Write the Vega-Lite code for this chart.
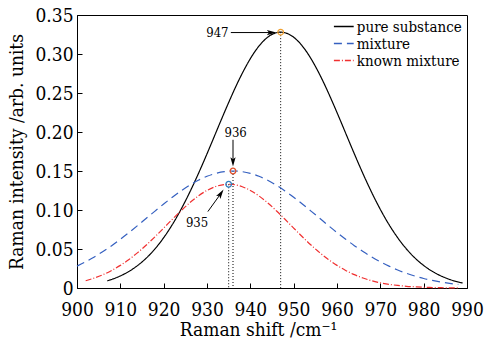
{
  "$schema": "https://vega.github.io/schema/vega-lite/v6.json",
  "width": 390,
  "height": 273,
  "autosize": {"type": "none"},
  "padding": {"left": 77, "top": 15, "right": 17, "bottom": 52},
  "background": "white",
  "config": {
    "font": "'DejaVu Serif Condensed', 'DejaVu Serif'",
    "view": {"stroke": "#000", "strokeWidth": 1},
    "axis": {
      "grid": false,
      "domainColor": "#000",
      "domainWidth": 1,
      "tickColor": "#000",
      "tickSize": -5,
      "labelColor": "#000",
      "titleColor": "#000",
      "labelFont": "'DejaVu Serif Condensed', 'DejaVu Serif'",
      "titleFont": "'DejaVu Serif Condensed', 'DejaVu Serif'",
      "labelFontSize": 19,
      "titleFontSize": 19,
      "titleFontWeight": "normal",
      "labelOverlap": false,
      "labelFlush": false
    }
  },
  "datasets": {
    "curves": [
      {"series": "pure substance", "x": 907, "y": 0.0092},
      {"series": "pure substance", "x": 909, "y": 0.0131},
      {"series": "pure substance", "x": 911, "y": 0.0182},
      {"series": "pure substance", "x": 913, "y": 0.0249},
      {"series": "pure substance", "x": 915, "y": 0.0334},
      {"series": "pure substance", "x": 917, "y": 0.0440},
      {"series": "pure substance", "x": 919, "y": 0.0570},
      {"series": "pure substance", "x": 921, "y": 0.0726},
      {"series": "pure substance", "x": 923, "y": 0.0907},
      {"series": "pure substance", "x": 925, "y": 0.1114},
      {"series": "pure substance", "x": 927, "y": 0.1343},
      {"series": "pure substance", "x": 929, "y": 0.1591},
      {"series": "pure substance", "x": 931, "y": 0.1852},
      {"series": "pure substance", "x": 933, "y": 0.2118},
      {"series": "pure substance", "x": 935, "y": 0.2378},
      {"series": "pure substance", "x": 937, "y": 0.2624},
      {"series": "pure substance", "x": 939, "y": 0.2843},
      {"series": "pure substance", "x": 941, "y": 0.3027},
      {"series": "pure substance", "x": 943, "y": 0.3165},
      {"series": "pure substance", "x": 945, "y": 0.3251},
      {"series": "pure substance", "x": 947, "y": 0.3280},
      {"series": "pure substance", "x": 949, "y": 0.3251},
      {"series": "pure substance", "x": 951, "y": 0.3165},
      {"series": "pure substance", "x": 953, "y": 0.3027},
      {"series": "pure substance", "x": 955, "y": 0.2843},
      {"series": "pure substance", "x": 957, "y": 0.2624},
      {"series": "pure substance", "x": 959, "y": 0.2378},
      {"series": "pure substance", "x": 961, "y": 0.2118},
      {"series": "pure substance", "x": 963, "y": 0.1852},
      {"series": "pure substance", "x": 965, "y": 0.1591},
      {"series": "pure substance", "x": 967, "y": 0.1343},
      {"series": "pure substance", "x": 969, "y": 0.1114},
      {"series": "pure substance", "x": 971, "y": 0.0907},
      {"series": "pure substance", "x": 973, "y": 0.0726},
      {"series": "pure substance", "x": 975, "y": 0.0570},
      {"series": "pure substance", "x": 977, "y": 0.0440},
      {"series": "pure substance", "x": 979, "y": 0.0334},
      {"series": "pure substance", "x": 981, "y": 0.0249},
      {"series": "pure substance", "x": 983, "y": 0.0182},
      {"series": "pure substance", "x": 985, "y": 0.0131},
      {"series": "pure substance", "x": 987, "y": 0.0092},
      {"series": "pure substance", "x": 989, "y": 0.0064},
      {"series": "mixture", "x": 900, "y": 0.0280},
      {"series": "mixture", "x": 902, "y": 0.0336},
      {"series": "mixture", "x": 904, "y": 0.0398},
      {"series": "mixture", "x": 906, "y": 0.0468},
      {"series": "mixture", "x": 908, "y": 0.0543},
      {"series": "mixture", "x": 910, "y": 0.0625},
      {"series": "mixture", "x": 912, "y": 0.0711},
      {"series": "mixture", "x": 914, "y": 0.0801},
      {"series": "mixture", "x": 916, "y": 0.0894},
      {"series": "mixture", "x": 918, "y": 0.0986},
      {"series": "mixture", "x": 920, "y": 0.1077},
      {"series": "mixture", "x": 922, "y": 0.1164},
      {"series": "mixture", "x": 924, "y": 0.1245},
      {"series": "mixture", "x": 926, "y": 0.1318},
      {"series": "mixture", "x": 928, "y": 0.1381},
      {"series": "mixture", "x": 930, "y": 0.1432},
      {"series": "mixture", "x": 932, "y": 0.1469},
      {"series": "mixture", "x": 934, "y": 0.1492},
      {"series": "mixture", "x": 936, "y": 0.1500},
      {"series": "mixture", "x": 938, "y": 0.1492},
      {"series": "mixture", "x": 940, "y": 0.1469},
      {"series": "mixture", "x": 942, "y": 0.1432},
      {"series": "mixture", "x": 944, "y": 0.1381},
      {"series": "mixture", "x": 946, "y": 0.1318},
      {"series": "mixture", "x": 948, "y": 0.1245},
      {"series": "mixture", "x": 950, "y": 0.1164},
      {"series": "mixture", "x": 952, "y": 0.1077},
      {"series": "mixture", "x": 954, "y": 0.0986},
      {"series": "mixture", "x": 956, "y": 0.0894},
      {"series": "mixture", "x": 958, "y": 0.0801},
      {"series": "mixture", "x": 960, "y": 0.0711},
      {"series": "mixture", "x": 962, "y": 0.0625},
      {"series": "mixture", "x": 964, "y": 0.0543},
      {"series": "mixture", "x": 966, "y": 0.0468},
      {"series": "mixture", "x": 968, "y": 0.0398},
      {"series": "mixture", "x": 970, "y": 0.0336},
      {"series": "mixture", "x": 972, "y": 0.0280},
      {"series": "mixture", "x": 974, "y": 0.0231},
      {"series": "mixture", "x": 976, "y": 0.0189},
      {"series": "mixture", "x": 978, "y": 0.0153},
      {"series": "mixture", "x": 980, "y": 0.0122},
      {"series": "mixture", "x": 982, "y": 0.0097},
      {"series": "mixture", "x": 984, "y": 0.0076},
      {"series": "mixture", "x": 986, "y": 0.0059},
      {"series": "mixture", "x": 988, "y": 0.0045},
      {"series": "known mixture", "x": 902, "y": 0.0093},
      {"series": "known mixture", "x": 904, "y": 0.0128},
      {"series": "known mixture", "x": 906, "y": 0.0171},
      {"series": "known mixture", "x": 908, "y": 0.0225},
      {"series": "known mixture", "x": 910, "y": 0.0290},
      {"series": "known mixture", "x": 912, "y": 0.0366},
      {"series": "known mixture", "x": 914, "y": 0.0454},
      {"series": "known mixture", "x": 916, "y": 0.0551},
      {"series": "known mixture", "x": 918, "y": 0.0657},
      {"series": "known mixture", "x": 920, "y": 0.0768},
      {"series": "known mixture", "x": 922, "y": 0.0881},
      {"series": "known mixture", "x": 924, "y": 0.0990},
      {"series": "known mixture", "x": 926, "y": 0.1092},
      {"series": "known mixture", "x": 928, "y": 0.1180},
      {"series": "known mixture", "x": 930, "y": 0.1251},
      {"series": "known mixture", "x": 932, "y": 0.1301},
      {"series": "known mixture", "x": 934, "y": 0.1327},
      {"series": "known mixture", "x": 935, "y": 0.1330},
      {"series": "known mixture", "x": 936, "y": 0.1327},
      {"series": "known mixture", "x": 938, "y": 0.1301},
      {"series": "known mixture", "x": 940, "y": 0.1251},
      {"series": "known mixture", "x": 942, "y": 0.1180},
      {"series": "known mixture", "x": 944, "y": 0.1092},
      {"series": "known mixture", "x": 946, "y": 0.0990},
      {"series": "known mixture", "x": 948, "y": 0.0881},
      {"series": "known mixture", "x": 950, "y": 0.0768},
      {"series": "known mixture", "x": 952, "y": 0.0657},
      {"series": "known mixture", "x": 954, "y": 0.0551},
      {"series": "known mixture", "x": 956, "y": 0.0454},
      {"series": "known mixture", "x": 958, "y": 0.0366},
      {"series": "known mixture", "x": 960, "y": 0.0290},
      {"series": "known mixture", "x": 962, "y": 0.0225},
      {"series": "known mixture", "x": 964, "y": 0.0171},
      {"series": "known mixture", "x": 966, "y": 0.0128},
      {"series": "known mixture", "x": 968, "y": 0.0093},
      {"series": "known mixture", "x": 970, "y": 0.0067},
      {"series": "known mixture", "x": 972, "y": 0.0047},
      {"series": "known mixture", "x": 974, "y": 0.0033},
      {"series": "known mixture", "x": 976, "y": 0.0022},
      {"series": "known mixture", "x": 978, "y": 0.0015},
      {"series": "known mixture", "x": 980, "y": 0.0009},
      {"series": "known mixture", "x": 982, "y": 0.0006},
      {"series": "known mixture", "x": 984, "y": 0.0004},
      {"series": "known mixture", "x": 986, "y": 0.0002},
      {"series": "known mixture", "x": 988, "y": 0.0001}
    ],
    "peaks": [
      {"name": "pure substance", "x": 947, "y": 0.328},
      {"name": "mixture", "x": 936, "y": 0.150},
      {"name": "known mixture", "x": 935, "y": 0.133}
    ],
    "labels": [
      {"label": "947", "x": 932.4, "y": 0.327},
      {"label": "936", "x": 936.6, "y": 0.199},
      {"label": "935", "x": 927.7, "y": 0.083}
    ],
    "arrows": [
      {"label": "947", "x": 935.5, "y": 0.3275, "x2": 944.9, "y2": 0.3275},
      {"label": "936", "x": 936.0, "y": 0.190, "x2": 936.0, "y2": 0.1617},
      {"label": "935", "x": 930.2, "y": 0.098, "x2": 933.2, "y2": 0.1211}
    ],
    "head947": [{"x": 944.9, "y": 0.3275}],
    "head936": [{"x": 936.0, "y": 0.1617}],
    "head935": [{"x": 933.2, "y": 0.1211}],
    "pt947": [{"x": 947, "y": 0.328}],
    "pt936": [{"x": 936, "y": 0.150}],
    "pt935": [{"x": 935, "y": 0.133}]
  },
  "encoding": {
    "x": {
      "field": "x",
      "type": "quantitative",
      "scale": {"domain": [900, 990], "nice": false, "zero": false},
      "axis": {
        "title": "Raman shift /cm⁻¹",
        "values": [900, 910, 920, 930, 940, 950, 960, 970, 980, 990],
        "format": "d",
        "labelPadding": 17,
        "titlePadding": 1,
        "titleX": 181
      }
    },
    "y": {
      "field": "y",
      "type": "quantitative",
      "scale": {"domain": [0, 0.35], "nice": false},
      "axis": {
        "title": "Raman intensity /arb. units",
        "values": [0, 0.05, 0.1, 0.15, 0.2, 0.25, 0.3, 0.35],
        "labelExpr": "datum.value == 0 ? '0' : format(datum.value, '.2f')",
        "labelPadding": 9,
        "titlePadding": 8
      }
    }
  },
  "layer": [
    {
      "data": {"name": "peaks"},
      "mark": {"type": "rule", "color": "#000", "strokeWidth": 1, "strokeDash": [1, 2]},
      "encoding": {"y2": {"datum": 0}}
    },
    {
      "data": {"name": "curves"},
      "mark": {"type": "line", "strokeWidth": 1.2, "interpolate": "monotone"},
      "encoding": {
        "color": {
          "field": "series",
          "type": "nominal",
          "scale": {"domain": ["pure substance", "mixture", "known mixture"], "range": ["#000000", "#3560c0", "#f03030"]},
          "legend": {
            "title": null, "orient": "none", "legendX": 258.8, "legendY": 3.5,
            "symbolType": "M-1.4,0H1.4", "symbolSize": 200, "symbolStrokeWidth": 1.3,
            "labelFontSize": 15, "labelFont": "'DejaVu Serif Condensed', 'DejaVu Serif'", "labelColor": "#000",
            "rowPadding": 1, "padding": 0, "labelOffset": 5
          }
        },
        "strokeDash": {
          "field": "series",
          "type": "nominal",
          "scale": {"domain": ["pure substance", "mixture", "known mixture"], "range": [[1, 0], [8, 5], [6, 2, 1, 2]]},
          "legend": {
            "title": null, "orient": "none", "legendX": 258.8, "legendY": 3.5,
            "symbolType": "M-1.4,0H1.4", "symbolSize": 200, "symbolStrokeWidth": 1.3,
            "labelFontSize": 15, "labelFont": "'DejaVu Serif Condensed', 'DejaVu Serif'", "labelColor": "#000",
            "rowPadding": 1, "padding": 0, "labelOffset": 5
          }
        }
      }
    },
    {
      "data": {"name": "arrows"},
      "mark": {"type": "rule", "color": "#000", "strokeWidth": 1},
      "encoding": {"x2": {"field": "x2"}, "y2": {"field": "y2"}}
    },
    {
      "data": {"name": "head947"},
      "mark": {"type": "point", "shape": "M0,-1L0.55,1L0,0.55L-0.55,1Z", "size": 90, "filled": true, "color": "#000", "opacity": 1, "angle": 90}
    },
    {
      "data": {"name": "head936"},
      "mark": {"type": "point", "shape": "M0,-1L0.55,1L0,0.55L-0.55,1Z", "size": 90, "filled": true, "color": "#000", "opacity": 1, "angle": 180}
    },
    {
      "data": {"name": "head935"},
      "mark": {"type": "point", "shape": "M0,-1L0.55,1L0,0.55L-0.55,1Z", "size": 90, "filled": true, "color": "#000", "opacity": 1, "angle": 34}
    },
    {
      "data": {"name": "pt947"},
      "mark": {"type": "point", "shape": "circle", "size": 32, "filled": false, "stroke": "#f0a030", "strokeWidth": 1.3, "opacity": 1}
    },
    {
      "data": {"name": "pt936"},
      "mark": {"type": "point", "shape": "circle", "size": 32, "filled": false, "stroke": "#e0502a", "strokeWidth": 1.3, "opacity": 1}
    },
    {
      "data": {"name": "pt935"},
      "mark": {"type": "point", "shape": "circle", "size": 32, "filled": false, "stroke": "#2f7fc0", "strokeWidth": 1.3, "opacity": 1}
    },
    {
      "data": {"name": "labels"},
      "mark": {"type": "text", "font": "'DejaVu Serif Condensed', 'DejaVu Serif'", "fontSize": 13, "color": "#000"},
      "encoding": {"text": {"field": "label"}}
    }
  ]
}
